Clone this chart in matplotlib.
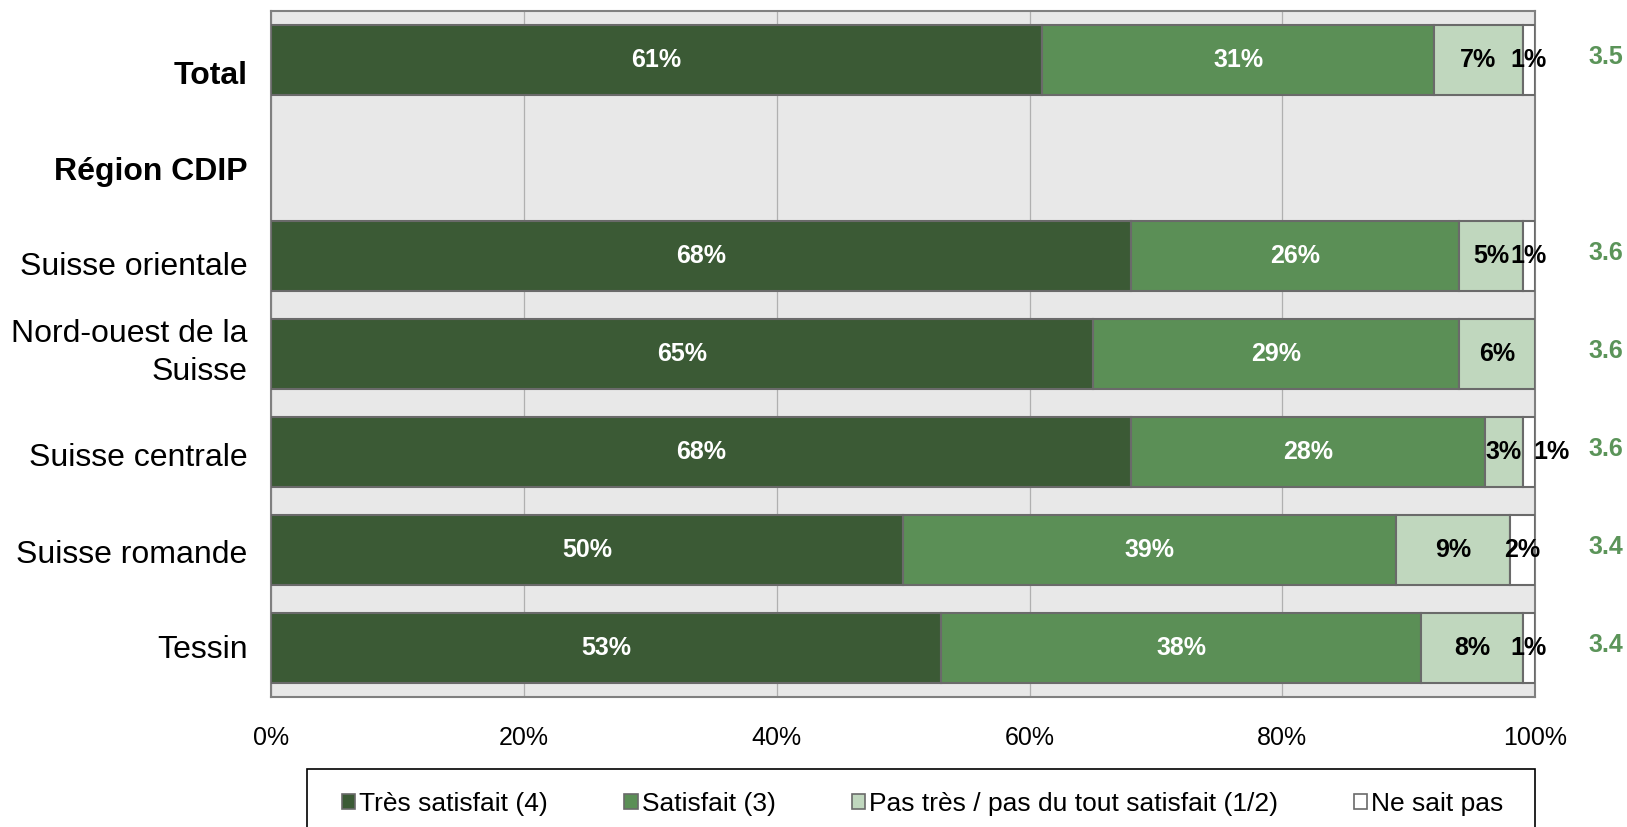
import matplotlib.pyplot as plt
from matplotlib.patches import Patch, Rectangle

plt.rcParams['font.family'] = ['Liberation Sans', 'DejaVu Sans']

# données (en %)
categories = ["Total", "Région CDIP", "Suisse orientale", "Nord-ouest de la\nSuisse",
              "Suisse centrale", "Suisse romande", "Tessin"]
bold_rows = ["Total", "Région CDIP"]
tres_satisfait = [61, 0, 68, 65, 68, 50, 53]
satisfait = [31, 0, 26, 29, 28, 39, 38]
pas_satisfait = [7, 0, 5, 6, 3, 9, 8]
ne_sait_pas = [1, 0, 1, 0, 1, 2, 1]
moyennes = ["3.5", "", "3.6", "3.6", "3.6", "3.4", "3.4"]
series_names = ["Très satisfait (4)", "Satisfait (3)",
                "Pas très / pas du tout satisfait (1/2)", "Ne sait pas"]
x_ticks = [0, 20, 40, 60, 80, 100]

colors = ["#3B5A35", "#5B8F56", "#C0D7BE", "#FFFFFF"]
text_colors = ["white", "white", "black", "black"]
edge = "#6A6A6A"
# decalage vertical des libelles (comme dans Excel)
label_dy = [0.16, 0.14, 0.11, -0.01, 0.06, 0.05, 0.02]

fig = plt.figure(figsize=(16.27, 8.27), dpi=100)
ax = fig.add_axes([0.1666, 0.157, 0.777, 0.8297])
ax.set_facecolor("#E8E8E8")

series = [tres_satisfait, satisfait, pas_satisfait, ne_sait_pas]
left = [0] * len(categories)
# Excel a deplace une etiquette a la main
nudge = {(4, 3): 1.8}
for s, vals in enumerate(series):
    idx = [i for i, v in enumerate(vals) if v > 0]
    ax.barh(idx, [vals[i] for i in idx], left=[left[i] for i in idx], height=0.71,
            color=colors[s], edgecolor=edge, linewidth=1.5, zorder=3)
    for i in idx:
        xpos = left[i] + vals[i] / 2 + nudge.get((i, s), 0)
        ax.text(xpos, i, f"{vals[i]}%", ha="center", va="center", fontsize=18,
                fontweight="bold", color=text_colors[s], zorder=4)
    left = [l + v for l, v in zip(left, vals)]

for i, m in enumerate(moyennes):
    if m:
        ax.text(1.042, i - 0.03, m, transform=ax.get_yaxis_transform(), ha="left",
                va="center", fontsize=18, fontweight="bold", color="#5B9459")

for i, cat in enumerate(categories):
    ax.text(-0.0185, i + label_dy[i], cat, transform=ax.get_yaxis_transform(),
            ha="right", va="center", fontsize=23, linespacing=1.35,
            fontweight="bold" if cat in bold_rows else "normal")

ax.set_xlim(0, 100)
ax.set_ylim(len(categories) - 0.5, -0.5)
ax.set_xticks(x_ticks)
ax.set_xticklabels([f"{t}%" for t in x_ticks], fontsize=18)
ax.set_yticks([])
ax.tick_params(axis="both", length=0)
ax.tick_params(axis="x", pad=21)
ax.xaxis.grid(True, color="#B0B0B0", linewidth=0.9, zorder=0)
ax.set_axisbelow(True)
for sp in ax.spines.values():
    sp.set_color("#808080")
    sp.set_linewidth(1.5)

# cadre de la legende
fig.patches.append(Rectangle((0.1887, -0.05), 0.755, 0.1201, transform=fig.transFigure,
                             facecolor="white", edgecolor="black", linewidth=1.2))
handles = [Patch(facecolor=c, edgecolor=edge, linewidth=1.2) for c in colors]
fig.legend(handles, series_names, loc="center left",
           bbox_to_anchor=(0.2103, 0.0278, 0.7138, 0.0), mode="expand",
           ncol=4, fontsize=19, frameon=False, handlelength=0.5,
           handleheight=0.5, handletextpad=0.15, borderpad=0, borderaxespad=0)

fig.savefig("out.png", dpi=100)
